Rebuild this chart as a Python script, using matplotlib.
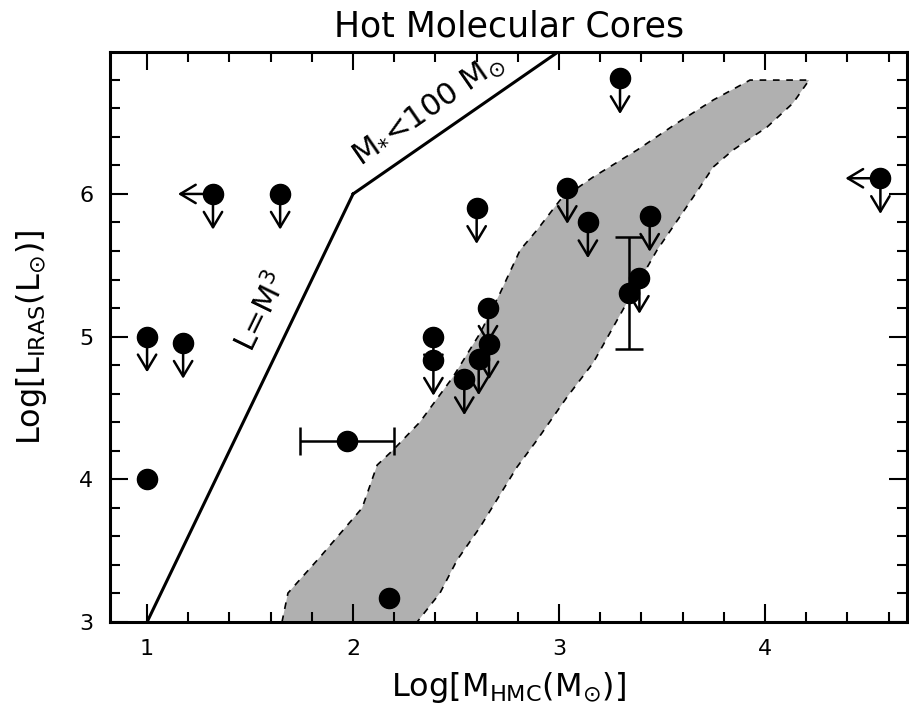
import matplotlib
matplotlib.use('Agg')
import matplotlib.pyplot as plt
from matplotlib.ticker import MultipleLocator, FixedLocator

plt.rcParams['font.family'] = ['DejaVu Sans']
plt.rcParams['mathtext.default'] = 'regular'

# detections (log M, log L)
det_x = [1.00, 2.175]
det_y = [4.00, 3.168]

# upper limits in L (down arrows)
ul_x = [1.00, 1.175, 1.32, 1.646, 2.39, 2.39, 2.60, 2.655, 2.66, 2.61, 2.54,
        3.04, 3.14, 3.44, 3.39, 4.56, 3.296]
ul_y = [5.00, 4.955, 6.00, 6.00, 5.00, 4.836, 5.90, 5.20, 4.95, 4.84, 4.70,
        6.04, 5.80, 5.845, 5.41, 6.11, 6.81]

# upper limits in M (left arrows)
ml_x = [1.32, 4.56]
ml_y = [6.00, 6.11]

# points with error bars
hx, hy, hxerr = 1.97, 4.268, 0.23
vx, vy, vyerr = 3.34, 5.305, 0.39

# model lines
lm3_x = [1.0, 2.0]
lm3_y = [3.0, 6.0]
mmax_x = [2.0, 3.0]
mmax_y = [6.0, 7.0]

# shaded band outline
band_x = [1.655, 1.684, 1.840, 2.044, 2.117, 2.194, 2.325, 2.485, 2.617, 2.714,
          2.811, 2.893, 3.005, 3.165, 3.379, 3.573, 3.748, 3.927, 4.214,
          4.136, 4.010, 3.845, 3.748, 3.684, 3.602, 3.476, 3.345, 3.165, 3.039,
          2.893, 2.796, 2.617, 2.505, 2.422, 2.311]
band_y = [3.000, 3.203, 3.456, 3.799, 4.100, 4.205, 4.402, 4.717, 5.025, 5.306,
          5.607, 5.747, 5.957, 6.118, 6.308, 6.497, 6.658, 6.798, 6.798,
          6.637, 6.469, 6.308, 6.188, 6.048, 5.873, 5.607, 5.278, 4.815, 4.577,
          4.275, 4.086, 3.666, 3.434, 3.203, 3.000]

fig = plt.figure(figsize=(9.09, 7.09), dpi=100)
ax = fig.add_axes([0.121, 0.1227, 0.877, 0.804])

ax.fill(band_x, band_y, facecolor='#b0b0b0', edgecolor='black',
        linestyle=(0, (4, 4)), lw=1.2, zorder=1)

ax.plot(lm3_x, lm3_y, color='black', lw=2.2, zorder=2)
ax.plot(mmax_x, mmax_y, color='black', lw=2.2, zorder=2)

arrow = dict(arrowstyle='->,head_length=0.5,head_width=0.3', color='black',
             lw=1.8, mutation_scale=22, shrinkA=0, shrinkB=0)
for x, y in zip(ul_x, ul_y):
    ax.annotate('', xy=(x, y - 0.25), xytext=(x, y), arrowprops=arrow, zorder=3)
for x, y in zip(ml_x, ml_y):
    ax.annotate('', xy=(x - 0.17, y), xytext=(x, y), arrowprops=arrow, zorder=3)

ax.errorbar([hx], [hy], xerr=[hxerr], fmt='none', ecolor='black', elinewidth=1.8,
            capsize=10, capthick=1.8, zorder=3)
ax.errorbar([vx], [vy], yerr=[vyerr], fmt='none', ecolor='black', elinewidth=1.8,
            capsize=10, capthick=1.8, zorder=3)

all_x = det_x + ul_x + [hx, vx]
all_y = det_y + ul_y + [hy, vy]
ax.plot(all_x, all_y, 'o', color='black', markersize=14.5, zorder=4)

ax.text(1.558, 5.17, 'L=M$^3$', rotation=64, fontsize=22,
        ha='center', va='center')
ax.text(2.364, 6.59, r'M$_{*}$<100 M$_{\odot}$', rotation=34.7, fontsize=22,
        ha='center', va='center')

ax.set_xlim(0.82, 4.69)
ax.set_ylim(3.0, 6.995)
ax.xaxis.set_major_locator(FixedLocator([1, 2, 3, 4]))
ax.xaxis.set_minor_locator(MultipleLocator(0.2))
ax.yaxis.set_major_locator(FixedLocator([3, 4, 5, 6]))
ax.yaxis.set_minor_locator(MultipleLocator(0.2))
ax.tick_params(which='both', direction='in', top=True, right=True, width=1.5,
               labelsize=16)
ax.tick_params(which='major', length=13, pad=12)
ax.tick_params(which='minor', length=7)
for s in ax.spines.values():
    s.set_linewidth(2.2)

ax.set_title('Hot Molecular Cores', fontsize=25, pad=11)
ax.set_xlabel(r'Log[M$_{\rm HMC}$(M$_{\odot}$)]', fontsize=23, labelpad=8)
ax.set_ylabel(r'Log[L$_{\rm IRAS}$(L$_{\odot}$)]', fontsize=23, labelpad=22)

fig.savefig('out.png', dpi=100)
